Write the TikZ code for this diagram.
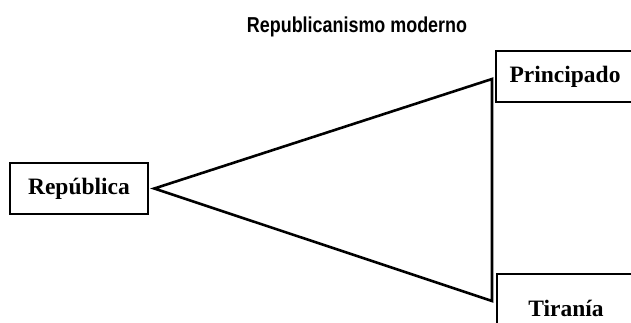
\documentclass[tikz,border=0pt]{standalone}
\usepackage{fontspec}
\setmainfont{Liberation Serif}
\newfontfamily\titlefont[FakeStretch=0.83]{Liberation Sans}
\begin{document}
\begin{tikzpicture}[x=1pt,y=-1pt,
  box/.style={draw, line width=2.6pt, minimum width=138pt, minimum height=51pt, inner sep=0pt, font=\fontsize{23.5}{26}\selectfont\bfseries},
  conn/.style={line width=2.6pt, line join=miter}]
\useasboundingbox (0,0) rectangle (631,323);
\clip (0,0) rectangle (631,323);
\node[font=\titlefont\fontsize{21.6}{24}\selectfont\bfseries, anchor=base] (title) at (357,33) {Republicanismo moderno};
\node[box] (rep) at (79,188.5) {República};
\node[box] (pri) at (565,76.5) {Principado};
\node[box, minimum height=69pt] (tir) at (566,308.5) {Tiranía};
\coordinate (apex) at ([xshift=5pt]rep.east);
\coordinate (p) at (492,79);
\coordinate (t) at (492,301);
\draw[conn] (apex) -- (p) -- (t) -- cycle;
\end{tikzpicture}
\end{document}
